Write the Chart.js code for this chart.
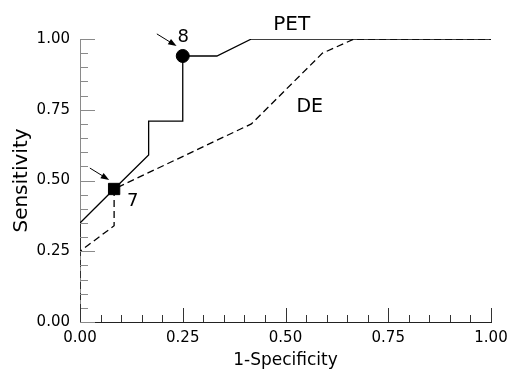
<!DOCTYPE html>
<html>
<head>
<meta charset="utf-8">
<script src="https://cdn.jsdelivr.net/npm/chart.js@4/dist/chart.umd.min.js"></script>
<style>
  html, body { margin: 0; padding: 0; background: #fff; }
  #wrap { width: 508px; height: 371px; }
</style>
</head>
<body>
<div id="wrap"><canvas id="rocChart"></canvas></div>
<script>
// ROC curves
const petX = [0, 0, 0.083, 0.167, 0.167, 0.25, 0.25, 0.333, 0.417, 1.0];
const petY = [0.25, 0.35, 0.47, 0.59, 0.71, 0.71, 0.94, 0.94, 1.0, 1.0];
const deX = [0, 0, 0.083, 0.083, 0.417, 0.59, 0.667, 1.0];
const deY = [0, 0.25, 0.34, 0.47, 0.70, 0.95, 1.0, 1.0];
// highlighted cut-off points
const cut7 = [0.083, 0.47];
const cut8 = [0.25, 0.94];
const tickLabels = ['0.00', '0.25', '0.50', '0.75', '1.00'];

const toPts = (xs, ys) => xs.map((x, i) => ({x: x, y: ys[i]}));
const FONT = '"DejaVu Sans", Verdana, sans-serif';

function isMajor(v) {
  return Math.abs(v * 4 - Math.round(v * 4)) < 1e-6;
}

// inward ticks, long at 0.25 steps, short at 0.05 steps
const innerTicks = {
  id: 'innerTicks',
  afterDraw(chart) {
    const ctx = chart.ctx;
    const xs = chart.scales.x, ys = chart.scales.y;
    const bottom = chart.chartArea.bottom, left = chart.chartArea.left;
    ctx.save();
    ctx.lineWidth = 1;
    ctx.strokeStyle = '#8a8a8a';
    ys.ticks.forEach(t => {
      const py = Math.round(ys.getPixelForValue(t.value)) + 0.5;
      const len = isMajor(t.value) ? 15 : 8;
      ctx.beginPath(); ctx.moveTo(left, py); ctx.lineTo(left + len, py); ctx.stroke();
    });
    ctx.strokeStyle = '#333';
    xs.ticks.forEach(t => {
      const px = Math.round(xs.getPixelForValue(t.value)) + 0.5;
      const len = isMajor(t.value) ? 14 : 7;
      ctx.beginPath(); ctx.moveTo(px, bottom); ctx.lineTo(px, bottom - len); ctx.stroke();
    });
    ctx.restore();
  }
};

function arrow(ctx, x1, y1, x2, y2) {
  const a = Math.atan2(y2 - y1, x2 - x1);
  ctx.beginPath(); ctx.moveTo(x1, y1); ctx.lineTo(x2 - 6 * Math.cos(a), y2 - 6 * Math.sin(a)); ctx.stroke();
  ctx.beginPath();
  ctx.moveTo(x2, y2);
  ctx.lineTo(x2 - 9 * Math.cos(a - 0.35), y2 - 9 * Math.sin(a - 0.35));
  ctx.lineTo(x2 - 9 * Math.cos(a + 0.35), y2 - 9 * Math.sin(a + 0.35));
  ctx.closePath(); ctx.fill();
}

const notes = {
  id: 'notes',
  afterDatasetsDraw(chart) {
    const ctx = chart.ctx;
    const X = v => chart.scales.x.getPixelForValue(v);
    const Y = v => chart.scales.y.getPixelForValue(v);
    ctx.save();
    ctx.fillStyle = '#000';
    ctx.strokeStyle = '#000';
    ctx.lineWidth = 1;
    arrow(ctx, X(0.187), Y(1.018), X(0.235), Y(0.975));
    arrow(ctx, X(0.024), Y(0.544), X(0.071), Y(0.502));
    ctx.font = '18px ' + FONT;
    ctx.textAlign = 'center';
    ctx.textBaseline = 'middle';
    ctx.fillText('8', X(0.251), Y(1.005));
    ctx.fillText('7', X(0.128), Y(0.425));
    ctx.font = '20px ' + FONT;
    ctx.fillText('PET', X(0.515), Y(1.05));
    ctx.font = '19px ' + FONT;
    ctx.fillText('DE', X(0.559), Y(0.76));
    ctx.restore();
  }
};

const ctx = document.getElementById('rocChart').getContext('2d');
new Chart(ctx, {
  type: 'scatter',
  data: {
    datasets: [
      {
        label: 'cut 8',
        data: [{x: cut8[0], y: cut8[1]}],
        pointStyle: 'circle',
        pointRadius: 6.5,
        backgroundColor: '#000',
        borderColor: '#000',
        order: 0
      },
      {
        label: 'cut 7',
        data: [{x: cut7[0], y: cut7[1]}],
        pointStyle: 'rect',
        pointRadius: 8,
        backgroundColor: '#000',
        borderColor: '#000',
        order: 0
      },
      {
        label: 'DE',
        data: toPts(deX, deY),
        showLine: true,
        borderColor: '#000',
        borderWidth: 1.3,
        borderDash: [7, 4],
        pointRadius: 0,
        order: 1
      },
      {
        label: 'PET',
        data: toPts(petX, petY),
        showLine: true,
        borderColor: '#000',
        borderWidth: 1.3,
        pointRadius: 0,
        order: 2
      }
    ]
  },
  options: {
    responsive: true,
    maintainAspectRatio: false,
    animation: false,
    layout: { padding: { top: 39, right: 17 } },
    plugins: { legend: { display: false }, tooltip: { enabled: false } },
    scales: {
      x: {
        type: 'linear', min: 0, max: 1,
        grid: { display: false, drawTicks: false },
        border: { display: true, color: '#222', width: 1 },
        ticks: {
          stepSize: 0.05, autoSkip: false, maxRotation: 0, padding: 7,
          color: '#000', font: { family: FONT, size: 15 },
          callback: v => isMajor(v) ? tickLabels[Math.round(v * 4)] : ''
        },
        title: { display: true, text: '1-Specificity', color: '#000', font: { family: FONT, size: 17 }, padding: { top: 0, bottom: 0 } },
        afterFit: s => { s.height = 49; s.paddingLeft = 0; s.paddingRight = 0; }
      },
      y: {
        type: 'linear', min: 0, max: 1,
        grid: { display: false, drawTicks: false },
        border: { display: true, color: '#8a8a8a', width: 1 },
        ticks: {
          stepSize: 0.05, autoSkip: false, padding: 10,
          color: '#000', font: { family: FONT, size: 15 },
          callback: v => isMajor(v) ? tickLabels[Math.round(v * 4)] : ''
        },
        title: { display: true, text: 'Sensitivity', color: '#000', font: { family: FONT, size: 20 }, padding: { top: 10, bottom: 0 } },
        afterFit: s => { s.width = 80; s.paddingTop = 0; s.paddingBottom = 0; }
      }
    }
  },
  plugins: [innerTicks, notes]
});
</script>
</body>
</html>
